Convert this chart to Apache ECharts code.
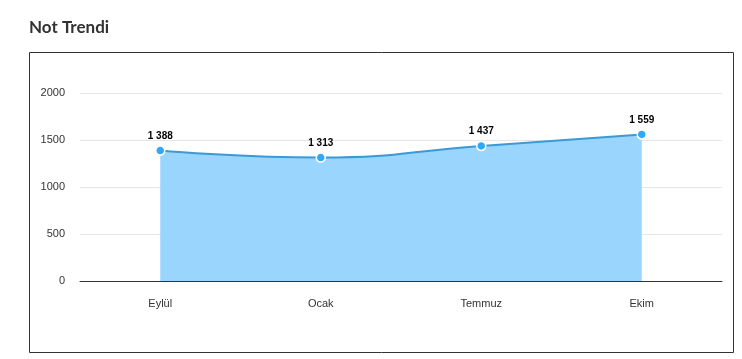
<!DOCTYPE html>
<html><head><meta charset="utf-8">
<script src="https://cdn.jsdelivr.net/npm/echarts@6/dist/echarts.min.js"></script>
<style>html,body{margin:0;padding:0;background:#fff}#c{width:742px;height:359px}</style>
</head><body><div id="c"></div>
<script>
const categories = ['Eylül', 'Ocak', 'Temmuz', 'Ekim'];
const values = [1388, 1313, 1437, 1559];
const yTicks = [0, 500, 1000, 1500, 2000];

const chart = echarts.init(document.getElementById('c'), null, {renderer: 'canvas'});
chart.setOption({
  animation: false,
  title: {
    text: 'Not Trendi', left: 24, top: 14,
    textStyle: {fontFamily: 'Lato', fontWeight: 'bold', fontSize: 17, color: '#333'}
  },
  graphic: [{
    type: 'rect', shape: {x: 29.5, y: 52.5, width: 704, height: 300},
    style: {fill: 'none', stroke: '#333', lineWidth: 1}, z: -1
  }],
  grid: {left: 80, right: 20, top: 93, bottom: 78},
  xAxis: {
    type: 'category', data: categories, boundaryGap: true,
    axisLine: {lineStyle: {color: '#333', width: 1}},
    axisTick: {show: false},
    axisLabel: {color: '#333', fontFamily: 'Liberation Sans', fontSize: 11, margin: 17}
  },
  yAxis: {
    type: 'value', min: yTicks[0], max: yTicks[yTicks.length - 1], interval: 500,
    axisLine: {show: false}, axisTick: {show: false},
    axisLabel: {color: '#333', fontFamily: 'Liberation Sans', fontSize: 11, margin: 15,
      formatter: v => String(v)},
    splitLine: {lineStyle: {color: '#e6e6e6'}}
  },
  series: [{
    type: 'line', data: values, smooth: true,
    symbol: 'circle', symbolSize: 9,
    itemStyle: {color: '#2ea8f7', borderColor: '#fff', borderWidth: 1.5},
    lineStyle: {color: '#3b9ad6', width: 2},
    areaStyle: {color: '#99d5fd', opacity: 1},
    label: {
      show: true, position: 'top', distance: 4,
      color: '#000', fontWeight: 'bold', fontSize: 10, fontFamily: 'Liberation Sans',
      formatter: p => String(p.value).replace(/\B(?=(\d{3})+(?!\d))/g, ' ')
    }
  }]
});
</script></body></html>
